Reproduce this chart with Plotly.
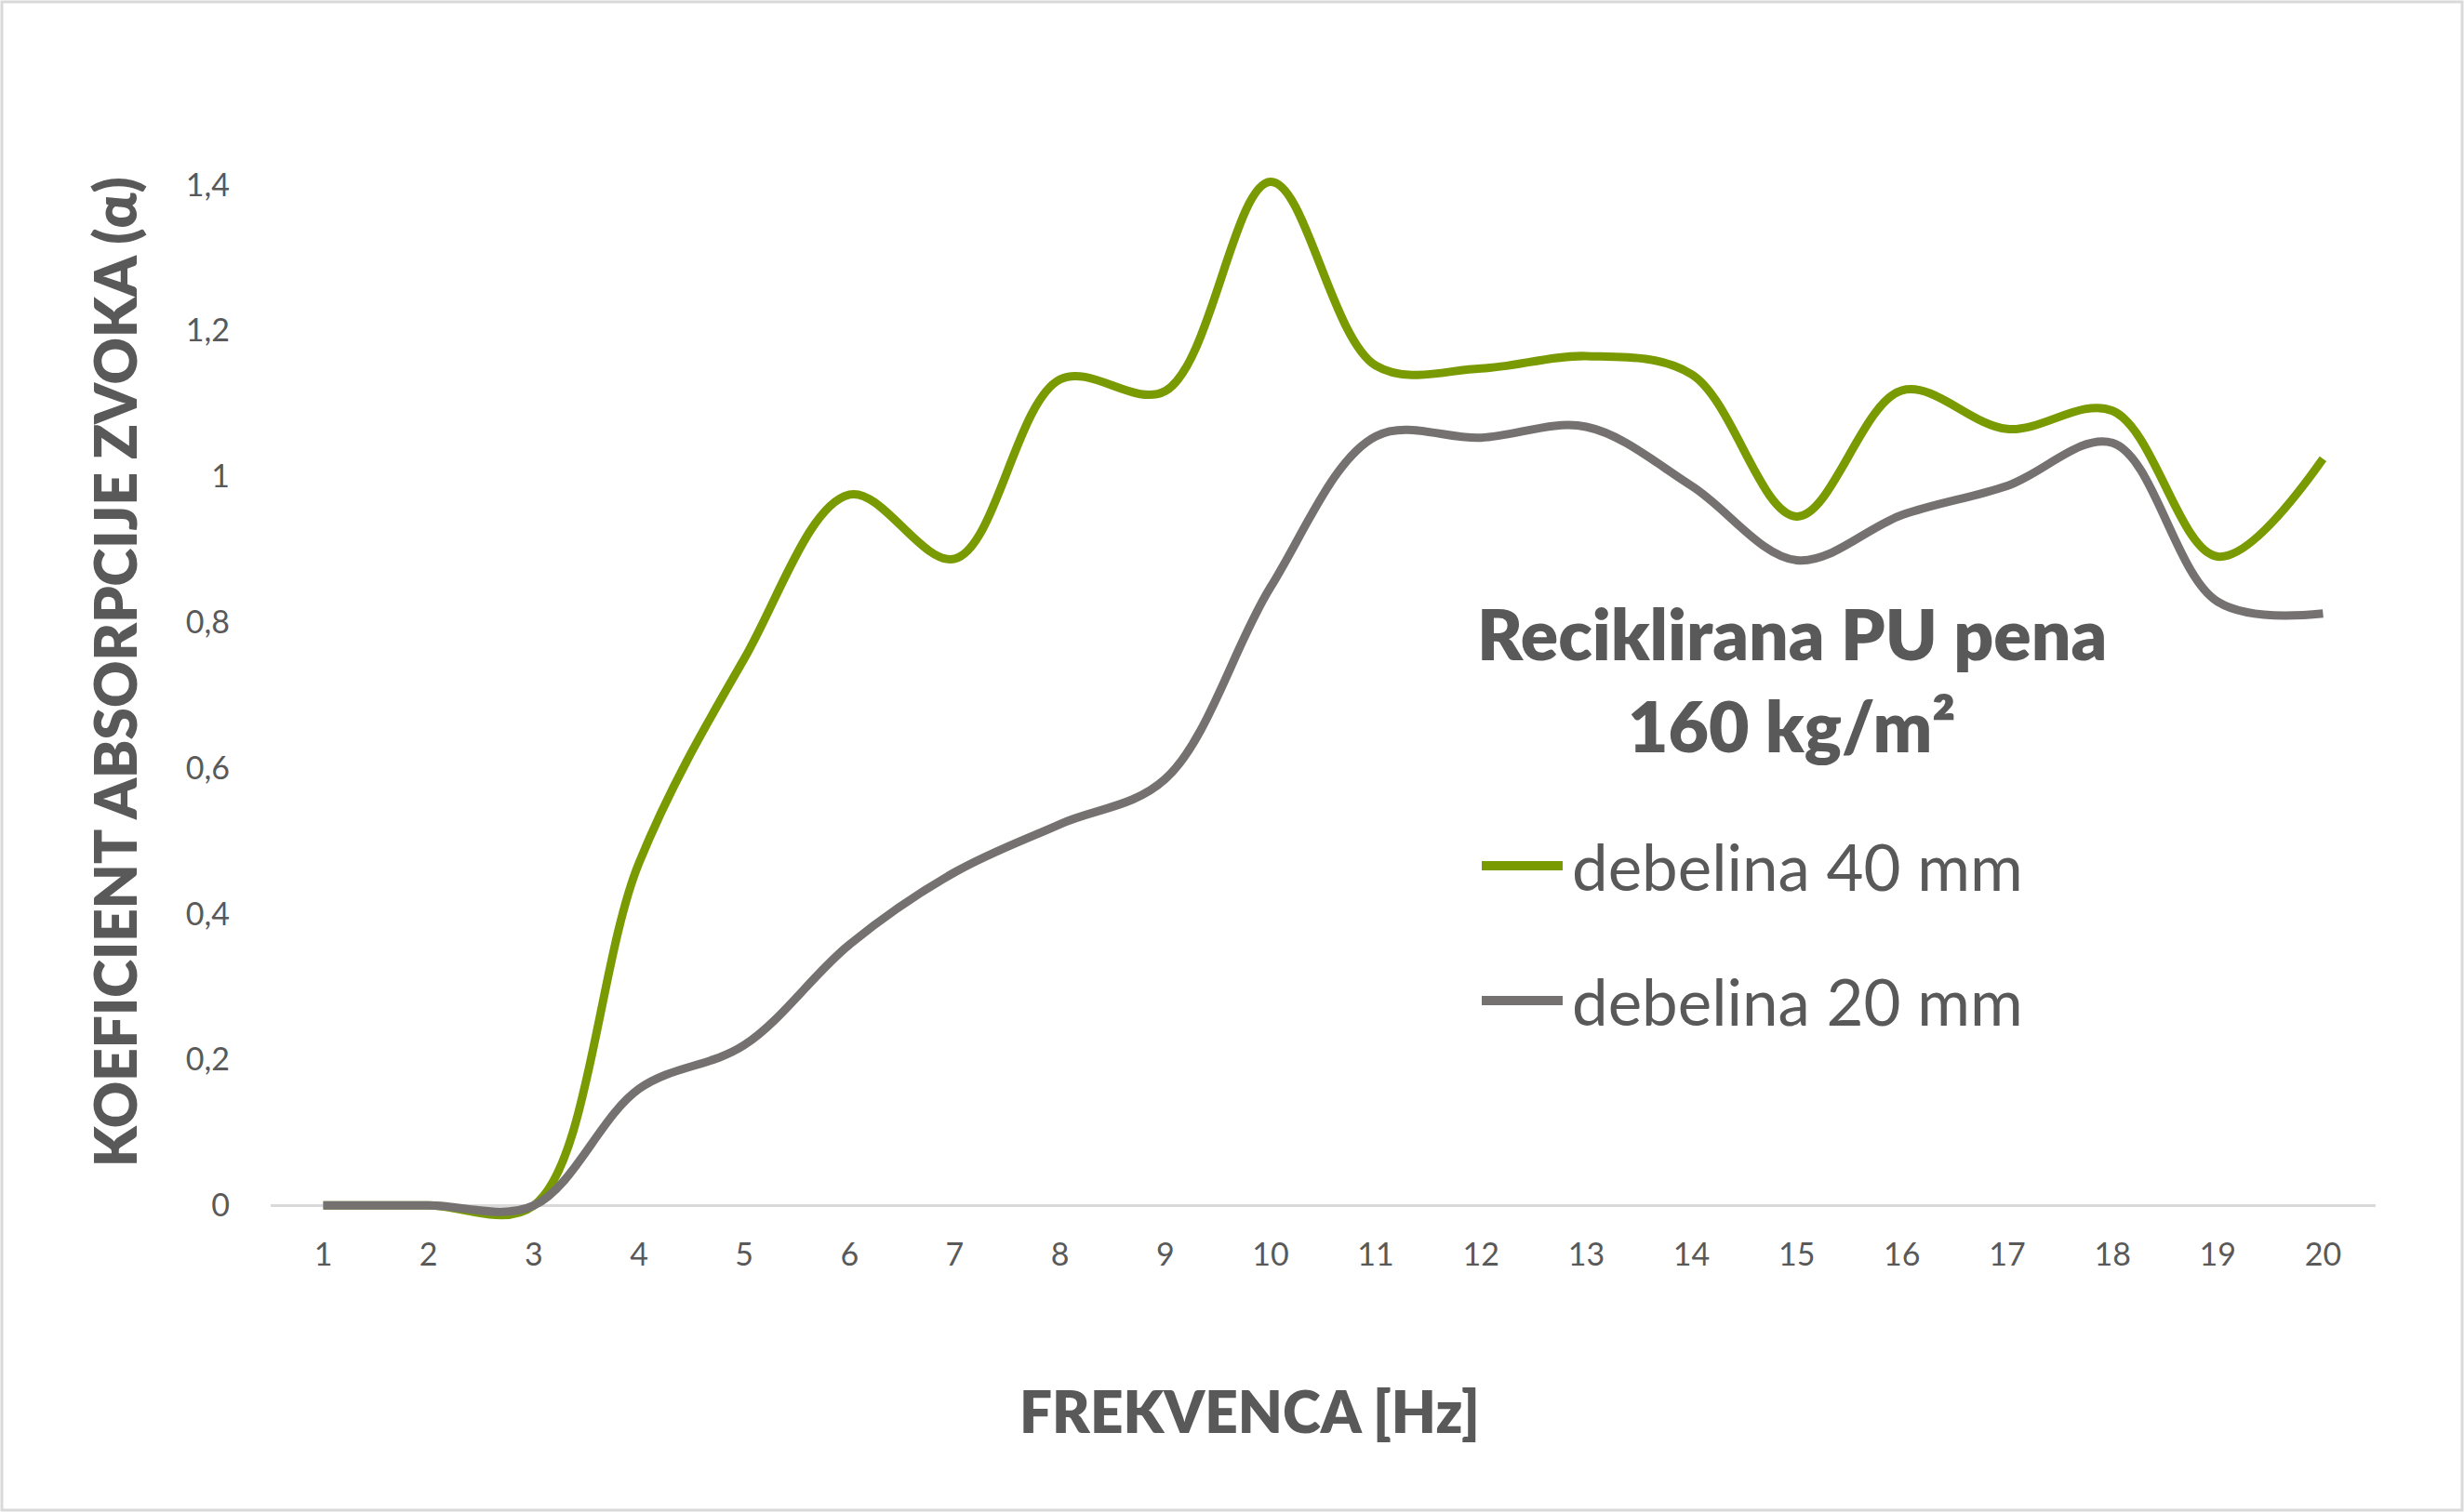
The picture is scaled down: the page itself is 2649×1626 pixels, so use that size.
import plotly.graph_objects as go

# frekvenca (x) in koeficient absorpcije zvoka za obe debelini
frekvenca = list(range(1, 21))
debelina_40 = [0, 0, 0, 0.47, 0.75, 0.975, 0.887, 1.133, 1.117, 1.404,
               1.152, 1.148, 1.165, 1.14, 0.945, 1.118, 1.065, 1.09, 0.89, 1.024]
debelina_20 = [0, 0, 0, 0.16, 0.22, 0.358, 0.457, 0.523, 0.585, 0.848,
               1.055, 1.053, 1.068, 0.987, 0.885, 0.947, 0.987, 1.046, 0.828, 0.812]
imena = ["debelina 40 mm", "debelina 20 mm"]
barve = ["#7A9A01", "#767171"]

y_ticks = [0, 0.2, 0.4, 0.6, 0.8, 1.0, 1.2, 1.4]
y_labels = ["0", "0,2", "0,4", "0,6", "0,8", "1", "1,2", "1,4"]

naslov = ["Reciklirana PU pena", "160 kg/m²"]

W, H = 2649, 1626
L, R, T, B = 291, 95, 183, 314
text_color = "#595959"
font = "Lato"

fig = go.Figure()
for vals, name, col in zip([debelina_40, debelina_20], imena, barve):
    fig.add_trace(go.Scatter(
        x=frekvenca, y=vals, name=name, mode="lines",
        line=dict(color=col, width=9, shape="spline", smoothing=1.0),
        showlegend=False
    ))

fig.update_layout(
    width=W, height=H,
    margin=dict(l=L, r=R, t=T, b=B, autoexpand=False),
    paper_bgcolor="white",
    plot_bgcolor="white",
    font=dict(family=font, color=text_color, size=34),
    showlegend=False
)
fig.update_xaxes(
    range=[0.5, 20.5],
    tickvals=frekvenca,
    showgrid=False, zeroline=False, showline=False,
    ticks="", ticklabelstandoff=14,
    tickfont=dict(size=34, color=text_color),
    automargin=False
)
fig.update_yaxes(
    range=[-0.02, 1.42],
    tickvals=y_ticks, ticktext=y_labels,
    showgrid=False, showline=False,
    zeroline=True, zerolinecolor="#D9D9D9", zerolinewidth=3,
    ticks="", ticklabelstandoff=43,
    tickfont=dict(size=34, color=text_color),
    automargin=False
)

pw = W - L - R
ph = H - T - B


def px_x(v):
    return (v - L) / pw


def px_y(v):
    return (H - B - v) / ph


heavy = dict(color=text_color, family=font, weight=800)

# naslovi osi
fig.add_annotation(
    text="KOEFICIENT ABSORPCIJE ZVOKA (α)", textangle=-90,
    xref="paper", yref="paper", x=px_x(123), y=px_y(723),
    xanchor="center", yanchor="middle", showarrow=False,
    font=dict(size=62, **heavy)
)
fig.add_annotation(
    text="FREKVENCA [Hz]",
    xref="paper", yref="paper", x=px_x(1343), y=px_y(1517),
    xanchor="center", yanchor="middle", showarrow=False,
    font=dict(size=62, **heavy)
)

# naslov v grafu
for txt, yy in zip(naslov, [681, 780]):
    fig.add_annotation(
        text=txt,
        xref="paper", yref="paper", x=px_x(1926), y=px_y(yy),
        xanchor="center", yanchor="middle", showarrow=False,
        font=dict(size=75, **heavy)
    )

# legenda
for name, col, yy in zip(imena, barve, [931, 1076]):
    fig.add_shape(
        type="line", xref="paper", yref="paper",
        x0=px_x(1593), x1=px_x(1680), y0=px_y(yy), y1=px_y(yy),
        line=dict(color=col, width=10)
    )
    fig.add_annotation(
        text=name, xref="paper", yref="paper",
        x=px_x(1688), y=px_y(yy), xanchor="left", yanchor="middle",
        showarrow=False, font=dict(size=69, color=text_color, family=font)
    )

# okvir
fig.add_shape(
    type="rect", xref="paper", yref="paper",
    x0=px_x(2), x1=px_x(W - 2), y0=px_y(H - 2), y1=px_y(2),
    line=dict(color="#D9D9D9", width=3)
)

fig.write_html("out.html", config={"displayModeBar": False},
               post_script="document.body.style.margin='0px';")
